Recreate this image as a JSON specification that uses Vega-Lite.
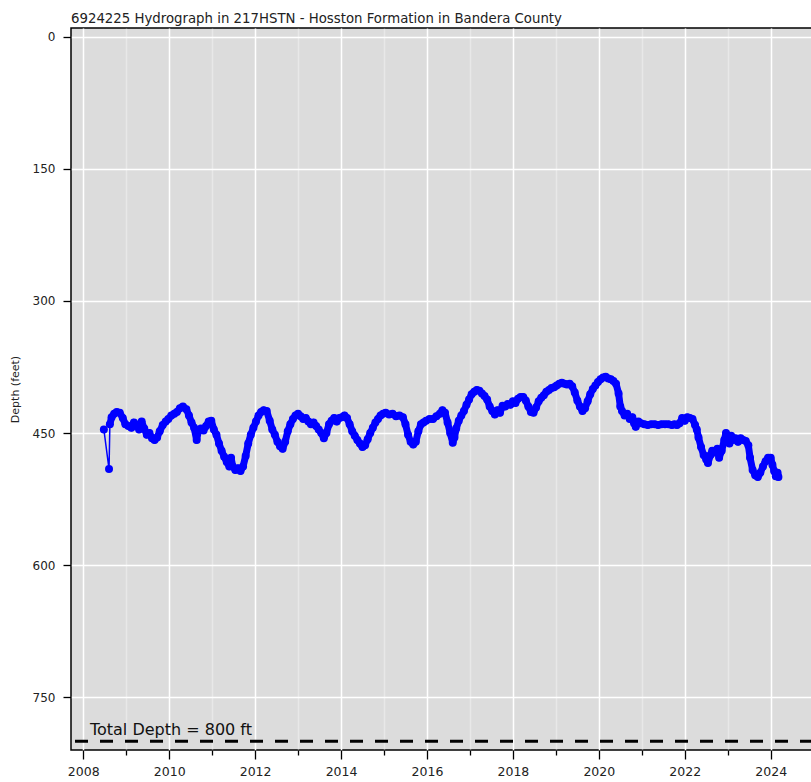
{
  "$schema": "https://vega.github.io/schema/vega-lite/v6.json",
  "autosize": {"type": "none"},
  "width": 742,
  "height": 722,
  "padding": {"left": 71, "top": 28, "right": 0, "bottom": 32},
  "background": "white",
  "config": {
    "font": "DejaVu Sans",
    "view": {"fill": "#dcdcdc", "stroke": "black", "strokeWidth": 1.5}
  },
  "title": {
    "text": "6924225 Hydrograph in 217HSTN - Hosston Formation in Bandera County",
    "anchor": "start",
    "frame": "group",
    "fontSize": 13.3,
    "fontWeight": "normal",
    "color": "#222222",
    "baseline": "alphabetic",
    "offset": 9,
    "dy": 17
  },
  "datasets": {
    "levels": [
      {"year": 2008.48, "depth": 446}, {"year": 2008.60, "depth": 491}, {"year": 2008.62, "depth": 440},
      {"year": 2008.66, "depth": 432}, {"year": 2008.72, "depth": 428}, {"year": 2008.78, "depth": 426},
      {"year": 2008.85, "depth": 427}, {"year": 2008.92, "depth": 433}, {"year": 2008.98, "depth": 440},
      {"year": 2009.05, "depth": 442}, {"year": 2009.12, "depth": 444}, {"year": 2009.18, "depth": 438},
      {"year": 2009.24, "depth": 441}, {"year": 2009.30, "depth": 446}, {"year": 2009.36, "depth": 437},
      {"year": 2009.42, "depth": 445}, {"year": 2009.48, "depth": 452}, {"year": 2009.54, "depth": 450},
      {"year": 2009.60, "depth": 456}, {"year": 2009.66, "depth": 458}, {"year": 2009.72, "depth": 455},
      {"year": 2009.78, "depth": 448}, {"year": 2009.85, "depth": 441}, {"year": 2009.92, "depth": 437},
      {"year": 2009.98, "depth": 434}, {"year": 2010.05, "depth": 430}, {"year": 2010.12, "depth": 428},
      {"year": 2010.18, "depth": 426}, {"year": 2010.25, "depth": 422}, {"year": 2010.32, "depth": 420},
      {"year": 2010.40, "depth": 423}, {"year": 2010.46, "depth": 430}, {"year": 2010.52, "depth": 438},
      {"year": 2010.58, "depth": 444}, {"year": 2010.64, "depth": 458}, {"year": 2010.68, "depth": 447},
      {"year": 2010.74, "depth": 445}, {"year": 2010.80, "depth": 447}, {"year": 2010.86, "depth": 442},
      {"year": 2010.92, "depth": 437}, {"year": 2010.98, "depth": 436}, {"year": 2011.04, "depth": 446},
      {"year": 2011.10, "depth": 452}, {"year": 2011.16, "depth": 462}, {"year": 2011.22, "depth": 470},
      {"year": 2011.28, "depth": 477}, {"year": 2011.34, "depth": 483}, {"year": 2011.40, "depth": 488},
      {"year": 2011.44, "depth": 478}, {"year": 2011.48, "depth": 488}, {"year": 2011.54, "depth": 492},
      {"year": 2011.60, "depth": 490}, {"year": 2011.66, "depth": 493}, {"year": 2011.72, "depth": 488},
      {"year": 2011.78, "depth": 476}, {"year": 2011.84, "depth": 462}, {"year": 2011.90, "depth": 452},
      {"year": 2011.96, "depth": 444}, {"year": 2012.02, "depth": 437}, {"year": 2012.08, "depth": 430},
      {"year": 2012.14, "depth": 426}, {"year": 2012.20, "depth": 424}, {"year": 2012.27, "depth": 425},
      {"year": 2012.34, "depth": 436}, {"year": 2012.40, "depth": 446}, {"year": 2012.46, "depth": 452},
      {"year": 2012.52, "depth": 460}, {"year": 2012.58, "depth": 465}, {"year": 2012.64, "depth": 468},
      {"year": 2012.70, "depth": 460}, {"year": 2012.76, "depth": 448}, {"year": 2012.82, "depth": 440},
      {"year": 2012.88, "depth": 434}, {"year": 2012.94, "depth": 430}, {"year": 2013.00, "depth": 428},
      {"year": 2013.06, "depth": 431}, {"year": 2013.12, "depth": 434}, {"year": 2013.18, "depth": 433},
      {"year": 2013.24, "depth": 437}, {"year": 2013.30, "depth": 440}, {"year": 2013.36, "depth": 438},
      {"year": 2013.42, "depth": 442}, {"year": 2013.48, "depth": 446}, {"year": 2013.54, "depth": 450},
      {"year": 2013.60, "depth": 456}, {"year": 2013.66, "depth": 450}, {"year": 2013.72, "depth": 440},
      {"year": 2013.78, "depth": 436}, {"year": 2013.84, "depth": 433}, {"year": 2013.90, "depth": 437},
      {"year": 2013.96, "depth": 433}, {"year": 2014.02, "depth": 432}, {"year": 2014.08, "depth": 430},
      {"year": 2014.14, "depth": 433}, {"year": 2014.20, "depth": 440}, {"year": 2014.26, "depth": 448},
      {"year": 2014.32, "depth": 453}, {"year": 2014.38, "depth": 458}, {"year": 2014.44, "depth": 462},
      {"year": 2014.50, "depth": 466}, {"year": 2014.56, "depth": 464}, {"year": 2014.62, "depth": 457},
      {"year": 2014.68, "depth": 450}, {"year": 2014.74, "depth": 444}, {"year": 2014.80, "depth": 438},
      {"year": 2014.86, "depth": 434}, {"year": 2014.92, "depth": 430}, {"year": 2014.98, "depth": 428},
      {"year": 2015.04, "depth": 427}, {"year": 2015.12, "depth": 429}, {"year": 2015.20, "depth": 428},
      {"year": 2015.28, "depth": 431}, {"year": 2015.36, "depth": 430}, {"year": 2015.44, "depth": 432},
      {"year": 2015.50, "depth": 440}, {"year": 2015.56, "depth": 452}, {"year": 2015.62, "depth": 460},
      {"year": 2015.68, "depth": 463}, {"year": 2015.74, "depth": 460}, {"year": 2015.80, "depth": 448},
      {"year": 2015.86, "depth": 440}, {"year": 2015.92, "depth": 438}, {"year": 2015.98, "depth": 436},
      {"year": 2016.06, "depth": 434}, {"year": 2016.14, "depth": 434}, {"year": 2016.22, "depth": 431},
      {"year": 2016.30, "depth": 428}, {"year": 2016.36, "depth": 424}, {"year": 2016.42, "depth": 427},
      {"year": 2016.48, "depth": 438}, {"year": 2016.54, "depth": 450}, {"year": 2016.60, "depth": 461},
      {"year": 2016.64, "depth": 455}, {"year": 2016.68, "depth": 445}, {"year": 2016.74, "depth": 436},
      {"year": 2016.80, "depth": 430}, {"year": 2016.86, "depth": 425}, {"year": 2016.92, "depth": 418},
      {"year": 2016.98, "depth": 412}, {"year": 2017.04, "depth": 406}, {"year": 2017.10, "depth": 403},
      {"year": 2017.16, "depth": 401}, {"year": 2017.22, "depth": 402}, {"year": 2017.28, "depth": 405},
      {"year": 2017.34, "depth": 408}, {"year": 2017.40, "depth": 412}, {"year": 2017.46, "depth": 420},
      {"year": 2017.52, "depth": 425}, {"year": 2017.58, "depth": 429}, {"year": 2017.64, "depth": 424},
      {"year": 2017.70, "depth": 427}, {"year": 2017.76, "depth": 419}, {"year": 2017.82, "depth": 420},
      {"year": 2017.88, "depth": 417}, {"year": 2017.94, "depth": 418}, {"year": 2018.00, "depth": 414},
      {"year": 2018.06, "depth": 416}, {"year": 2018.12, "depth": 411}, {"year": 2018.18, "depth": 409},
      {"year": 2018.24, "depth": 409}, {"year": 2018.30, "depth": 413}, {"year": 2018.36, "depth": 420},
      {"year": 2018.42, "depth": 426}, {"year": 2018.48, "depth": 427}, {"year": 2018.54, "depth": 421},
      {"year": 2018.60, "depth": 414}, {"year": 2018.66, "depth": 410}, {"year": 2018.72, "depth": 407},
      {"year": 2018.78, "depth": 403}, {"year": 2018.84, "depth": 401}, {"year": 2018.90, "depth": 399},
      {"year": 2018.96, "depth": 398}, {"year": 2019.02, "depth": 396}, {"year": 2019.08, "depth": 394},
      {"year": 2019.14, "depth": 393}, {"year": 2019.20, "depth": 394}, {"year": 2019.26, "depth": 395},
      {"year": 2019.32, "depth": 394}, {"year": 2019.38, "depth": 397}, {"year": 2019.44, "depth": 404},
      {"year": 2019.50, "depth": 413}, {"year": 2019.56, "depth": 420}, {"year": 2019.62, "depth": 425},
      {"year": 2019.68, "depth": 422}, {"year": 2019.74, "depth": 414}, {"year": 2019.80, "depth": 406},
      {"year": 2019.86, "depth": 400}, {"year": 2019.92, "depth": 396}, {"year": 2019.98, "depth": 392},
      {"year": 2020.04, "depth": 389}, {"year": 2020.10, "depth": 387}, {"year": 2020.16, "depth": 386},
      {"year": 2020.22, "depth": 388}, {"year": 2020.28, "depth": 389}, {"year": 2020.34, "depth": 391},
      {"year": 2020.40, "depth": 394}, {"year": 2020.46, "depth": 405}, {"year": 2020.50, "depth": 420},
      {"year": 2020.54, "depth": 425}, {"year": 2020.60, "depth": 430}, {"year": 2020.66, "depth": 428},
      {"year": 2020.72, "depth": 434}, {"year": 2020.78, "depth": 432}, {"year": 2020.82, "depth": 439},
      {"year": 2020.86, "depth": 443}, {"year": 2020.92, "depth": 437}, {"year": 2020.98, "depth": 439},
      {"year": 2021.06, "depth": 440}, {"year": 2021.14, "depth": 441}, {"year": 2021.22, "depth": 440},
      {"year": 2021.30, "depth": 440}, {"year": 2021.38, "depth": 441}, {"year": 2021.46, "depth": 440},
      {"year": 2021.54, "depth": 440}, {"year": 2021.62, "depth": 440}, {"year": 2021.70, "depth": 441},
      {"year": 2021.76, "depth": 440}, {"year": 2021.82, "depth": 441},
      {"year": 2021.88, "depth": 439}, {"year": 2021.94, "depth": 433}, {"year": 2022.00, "depth": 436},
      {"year": 2022.06, "depth": 432}, {"year": 2022.12, "depth": 433}, {"year": 2022.18, "depth": 434},
      {"year": 2022.24, "depth": 441}, {"year": 2022.28, "depth": 446}, {"year": 2022.32, "depth": 455},
      {"year": 2022.38, "depth": 466}, {"year": 2022.44, "depth": 475}, {"year": 2022.50, "depth": 480},
      {"year": 2022.54, "depth": 484}, {"year": 2022.60, "depth": 475}, {"year": 2022.64, "depth": 470},
      {"year": 2022.70, "depth": 472}, {"year": 2022.76, "depth": 468}, {"year": 2022.80, "depth": 478},
      {"year": 2022.86, "depth": 470}, {"year": 2022.92, "depth": 458}, {"year": 2022.96, "depth": 450},
      {"year": 2023.00, "depth": 457}, {"year": 2023.04, "depth": 462}, {"year": 2023.08, "depth": 453},
      {"year": 2023.12, "depth": 458}, {"year": 2023.18, "depth": 456}, {"year": 2023.24, "depth": 460},
      {"year": 2023.30, "depth": 456}, {"year": 2023.36, "depth": 458}, {"year": 2023.42, "depth": 459},
      {"year": 2023.48, "depth": 464}, {"year": 2023.52, "depth": 478}, {"year": 2023.58, "depth": 492},
      {"year": 2023.64, "depth": 498}, {"year": 2023.70, "depth": 500}, {"year": 2023.76, "depth": 495},
      {"year": 2023.82, "depth": 488}, {"year": 2023.88, "depth": 482}, {"year": 2023.94, "depth": 478},
      {"year": 2024.00, "depth": 478}, {"year": 2024.04, "depth": 486}, {"year": 2024.08, "depth": 493},
      {"year": 2024.12, "depth": 499}, {"year": 2024.16, "depth": 495}, {"year": 2024.18, "depth": 500}
    ],
    "total": [{"depth": 800, "label": "Total Depth = 800 ft"}]
  },
  "layer": [
    {
      "data": {"name": "levels"},
      "encoding": {
        "x": {
          "field": "year",
          "type": "quantitative",
          "scale": {"domain": [2007.715, 2024.985], "nice": false, "zero": false},
          "axis": {
            "title": null,
            "values": [2008, 2009, 2010, 2011, 2012, 2013, 2014, 2015, 2016, 2017, 2018, 2019, 2020, 2021, 2022, 2023, 2024],
            "format": "d",
            "labelExpr": "datum.value % 2 === 0 ? datum.label : ''",
            "labelFontSize": 12.5,
            "labelColor": "#222222",
            "labelPadding": 6,
            "labelFlush": false,
            "domain": false,
            "tickColor": "black",
            "tickWidth": 1.3,
            "tickSize": {"condition": {"test": "datum.value % 2 === 1", "value": 5}, "value": 9},
            "gridColor": "white",
            "gridWidth": 1.5,
            "gridOpacity": {"condition": {"test": "datum.value % 2 === 1", "value": 0.35}, "value": 1}
          }
        },
        "y": {
          "field": "depth",
          "type": "quantitative",
          "scale": {"domain": [-10, 810], "reverse": true, "nice": false, "zero": false},
          "axis": {
            "title": "Depth (feet)",
            "titleFontSize": 11,
            "titleFontWeight": "normal",
            "titleColor": "#222222",
            "titlePadding": 12,
            "values": [0, 150, 300, 450, 600, 750],
            "labelFontSize": 12,
            "labelColor": "#222222",
            "labelPadding": 8,
            "domain": false,
            "tickColor": "black",
            "tickWidth": 1.3,
            "tickSize": 8,
            "gridColor": "white",
            "gridWidth": 1.5
          }
        }
      },
      "layer": [
        {"mark": {"type": "line", "color": "#0000ff", "strokeWidth": 1.5}},
        {
          "transform": [{"filter": "datum.year > 2008.61"}],
          "mark": {"type": "line", "color": "#0000ff", "strokeWidth": 7, "strokeCap": "round", "strokeJoin": "round"}
        },
        {"mark": {"type": "circle", "color": "#0000ff", "size": 64, "opacity": 1}}
      ]
    },
    {
      "data": {"name": "total"},
      "mark": {"type": "rule", "color": "black", "strokeWidth": 3, "strokeDash": [13, 12]},
      "encoding": {"y": {"field": "depth", "type": "quantitative"}}
    },
    {
      "data": {"name": "total"},
      "mark": {"type": "text", "align": "left", "baseline": "alphabetic", "dy": -6, "fontSize": 16, "color": "#111111"},
      "encoding": {
        "x": {"datum": 2008.156},
        "y": {"field": "depth", "type": "quantitative"},
        "text": {"field": "label"}
      }
    }
  ]
}
